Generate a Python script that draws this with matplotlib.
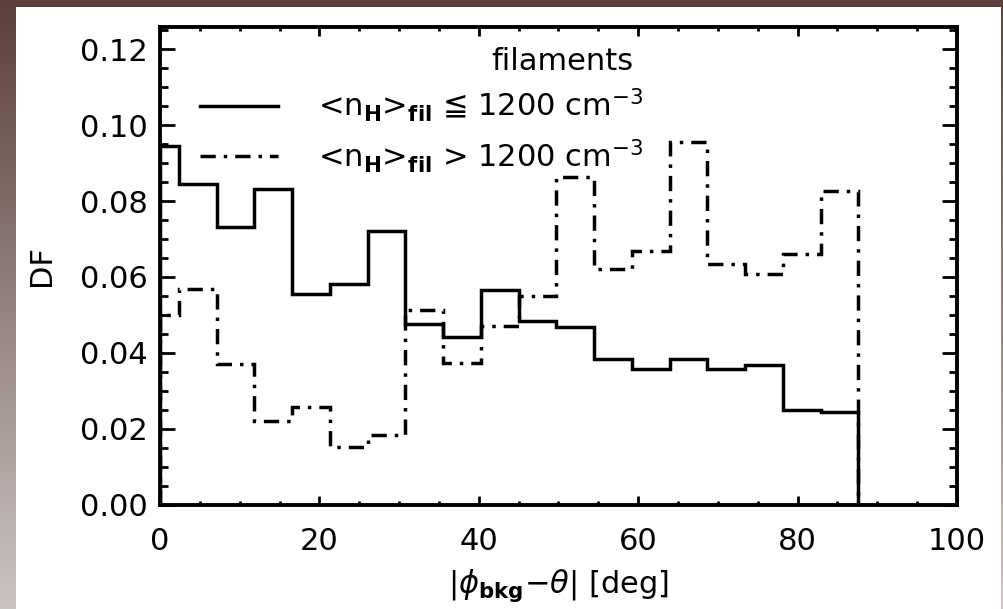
import numpy as np
import matplotlib
matplotlib.use("Agg")
import matplotlib.pyplot as plt
from matplotlib.colors import LinearSegmentedColormap
from matplotlib.lines import Line2D
from matplotlib.patches import Rectangle
from matplotlib.ticker import FormatStrFormatter, MultipleLocator

# -------------------------------- data --------------------------------
# step edges of the histogram (deg): first bin is half width, as in IDL psym=10
BIN_EDGES = [0.0, 2.37, 7.11, 11.84, 16.58, 21.32, 26.05, 30.79, 35.53, 40.26,
             45.0, 49.74, 54.47, 59.21, 63.95, 68.68, 73.42, 78.16, 82.89, 87.63]

DF_LOW = [0.0946, 0.0845, 0.0733, 0.0832, 0.0556, 0.0582, 0.0722, 0.0475,
          0.0442, 0.0566, 0.0484, 0.0468, 0.0383, 0.0357, 0.0385, 0.0357,
          0.0367, 0.0249, 0.0243]
DF_HIGH = [0.0499, 0.0567, 0.0370, 0.0221, 0.0256, 0.0152, 0.0183, 0.0514,
           0.0374, 0.0470, 0.0549, 0.0864, 0.0620, 0.0668, 0.0955, 0.0635,
           0.0608, 0.0661, 0.0826]

LABEL_LOW = r"<n$_{\mathbf{H}}$>$_{\mathbf{fil}}$ ≦ 1200 cm$^{-3}$"
LABEL_HIGH = r"<n$_{\mathbf{H}}$>$_{\mathbf{fil}}$ > 1200 cm$^{-3}$"
TITLE = "filaments"
XLABEL = r"|$\mathit{\phi}_{\mathbf{bkg}}$$-\mathit{\theta}$| [deg]"
YLABEL = "DF"

X_RANGE = (0, 100)
Y_RANGE = (0, 0.126)
# ----------------------------------------------------------------------

FS = 22
LW = 2.5
DASHDOT = (0, (4.4, 2.3, 1.0, 2.3))

plt.rcParams["font.family"] = ["DejaVu Sans"]
plt.rcParams["mathtext.fontset"] = "dejavusans"
plt.rcParams["mathtext.default"] = "regular"

fig = plt.figure(figsize=(10.04, 6.09), dpi=100)

# slide background: brown-to-grey gradient with a white panel on top
bg = fig.add_axes([0, 0, 1, 1], zorder=-10)
cmap = LinearSegmentedColormap.from_list("slide", ["#5c403b", "#cbc4c2"])
bg.imshow(np.linspace(0, 1, 256).reshape(-1, 1), aspect="auto", cmap=cmap,
          extent=(0, 1, 0, 1), origin="upper")
bg.add_patch(Rectangle((16 / 1004, 0), (1001 - 16) / 1004, 1 - 7.3 / 609,
                       facecolor="white", edgecolor="none"))
bg.set_axis_off()

ax = fig.add_axes([160 / 1004, 1 - 504.5 / 609, 797 / 1004, 477.8 / 609])
ax.stairs(DF_LOW, BIN_EDGES, baseline=0, color="black", lw=LW)
ax.stairs(DF_HIGH, BIN_EDGES, baseline=0, color="black", lw=LW, linestyle=DASHDOT)

ax.set_xlim(*X_RANGE)
ax.set_ylim(*Y_RANGE)
ax.xaxis.set_major_locator(MultipleLocator(20))
ax.xaxis.set_minor_locator(MultipleLocator(5))
ax.yaxis.set_major_locator(MultipleLocator(0.02))
ax.yaxis.set_minor_locator(MultipleLocator(0.005))
ax.yaxis.set_major_formatter(FormatStrFormatter("%.2f"))

ax.tick_params(which="both", direction="in", top=True, right=True,
               width=2.0, labelsize=FS, colors="black")
ax.tick_params(axis="x", which="major", length=6.5, pad=16)
ax.tick_params(axis="x", which="minor", length=3.2)
ax.tick_params(axis="y", which="major", length=10.8, pad=9)
ax.tick_params(axis="y", which="minor", length=5.8)
for sp in ax.spines.values():
    sp.set_linewidth(2.8)

ax.set_xlabel(XLABEL, fontsize=FS)
ax.set_ylabel(YLABEL, fontsize=FS)
ax.xaxis.set_label_coords(0.5, -0.13)
ax.yaxis.set_label_coords(-0.13, 0.5)

handles = [Line2D([], [], color="black", lw=LW),
           Line2D([], [], color="black", lw=LW, linestyle=DASHDOT)]
ax.legend(handles, [LABEL_LOW, LABEL_HIGH], loc="upper left",
          bbox_to_anchor=(40 / 797, 1 - 60 / 477.8), frameon=False,
          fontsize=FS, handlelength=2.55, handletextpad=1.3,
          labelspacing=0.42, borderpad=0, borderaxespad=0)
ax.text(633 / 797 - 160 / 797, 1 - (61 - 26.7) / 477.8, TITLE, fontsize=FS,
        ha="right", va="center", transform=ax.transAxes)

fig.savefig("out.png", dpi=100)
